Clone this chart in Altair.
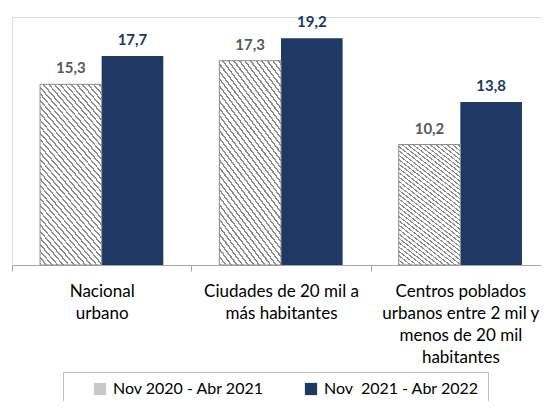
import altair as alt
import pandas as pd

categories = [
    "Nacional|urbano",
    "Ciudades de 20 mil a|más habitantes",
    "Centros poblados|urbanos entre 2 mil y|menos de 20 mil|habitantes",
]
series = ["Nov 2020 - Abr 2021", "Nov\u00a0 2021 - Abr 2022"]
values_2021 = [15.3, 17.3, 10.2]
values_2022 = [17.7, 19.2, 13.8]

rows = []
for i, c in enumerate(categories):
    for s, vals in zip(series, [values_2021, values_2022]):
        rows.append({"cat": c, "serie": s, "v": vals[i],
                     "lbl": f"{vals[i]:.1f}".replace(".", ",")})
df = pd.DataFrame(rows)

FONT = "Lato"
NAVY = "#203864"
GRAY_TXT = "#595959"

# diagonal hatch approximated with a striped linear gradient
stops = []
N = 80
for i in range(N):
    a = i / N
    b = (i + 0.32) / N
    c = (i + 1) / N
    stops += [
        alt.GradientStop(offset=a, color="#8c8c8c"),
        alt.GradientStop(offset=b, color="#8c8c8c"),
        alt.GradientStop(offset=b, color="#ffffff"),
        alt.GradientStop(offset=c, color="#ffffff"),
    ]
hatch = alt.Gradient(gradient="linear", stops=stops, x1=0, y1=1, x2=1, y2=-1.5)

x = alt.X(
    "cat:N", sort=categories,
    scale=alt.Scale(paddingInner=0, paddingOuter=0, range=[0, 538]),
    axis=alt.Axis(
        title=None, labelExpr="split(datum.label, '|')", labelAngle=0,
        tickBand="extent", labelLimit=300, labelFontSize=17, labelColor="#000000",
        labelFont=FONT, labelPadding=12, labelLineHeight=22, domainColor="#a6a6a6",
        tickColor="#a6a6a6", tickSize=6, labelOverlap=False, labelBaseline="top",
    ),
)
xo = alt.XOffset("serie:N", sort=series,
                 scale=alt.Scale(paddingOuter=0.455, paddingInner=0))
y = alt.Y("v:Q", scale=alt.Scale(domain=[0, 21]), axis=None)

bars = alt.Chart(df).mark_bar().encode(
    x=x, xOffset=xo, y=y,
    color=alt.Color(
        "serie:N", sort=series,
        scale=alt.Scale(domain=series, range=["#c8c8c8", NAVY]),
        legend=alt.Legend(
            title=None, orient="none", legendX=51, legendY=355,
            direction="horizontal", strokeColor="#bfbfbf", padding=9,
            symbolType="square", symbolSize=150, symbolStrokeWidth=0,
            labelFontSize=16, labelFont=FONT, labelColor="#000000",
            columnPadding=18, symbolOffset=20, labelOffset=5,
            labelExpr="datum.label + '\u00a0\u00a0\u00a0\u00a0'",
        ),
    ),
)

hatched = alt.Chart(df).transform_filter(
    alt.datum.serie == series[0]
).mark_bar(fill=hatch, stroke="#8c8c8c", strokeWidth=1).encode(
    x=x, xOffset=xo, y=y,
)

labels = alt.Chart(df).mark_text(
    dy=-16, fontWeight="bold", fontSize=15, font=FONT
).encode(
    x=x, xOffset=xo, y=y, text="lbl:N",
    color=alt.Color("serie:N", sort=series,
                    scale=alt.Scale(domain=series, range=[GRAY_TXT, NAVY]),
                    legend=None),
)

chart = alt.layer(bars, hatched, labels).resolve_scale(
    color="independent"
).properties(
    width=529, height=248,
    autosize=alt.AutoSizeParams(type="none"),
    padding={"left": 4, "top": 9, "right": 0, "bottom": 136},
).configure_view(stroke=None).configure(background="white")

chart.save("out.html", embed_options={"renderer": "svg", "actions": False})
